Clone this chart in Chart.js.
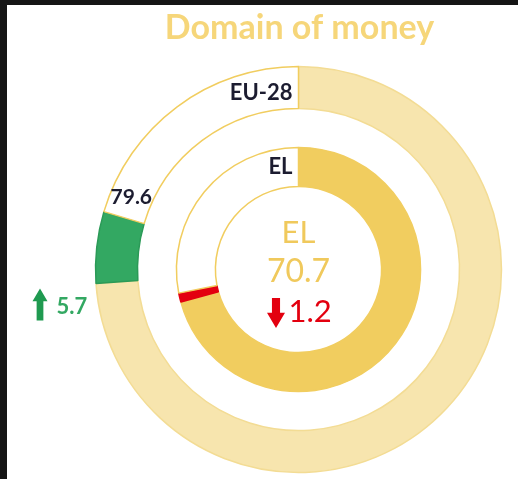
<!DOCTYPE html>
<html>
<head>
<meta charset="utf-8">
<script src="https://cdn.jsdelivr.net/npm/chart.js@4"></script>
<style>
html, body { margin: 0; padding: 0; background: #151515; }
#panel { position: absolute; left: 7px; top: 5px; width: 511px; height: 474px; background: #fff; }
#wrap { position: absolute; left: 0; top: 0; width: 518px; height: 479px; }
</style>
</head>
<body>
<div id="panel"></div>
<div id="wrap"><canvas id="moneyChart" width="518" height="479"></canvas></div>
<script>
// Domain of money - EU-28 (outer ring) vs EL (inner ring)
const title = 'Domain of money';
const rings = ['EU-28', 'EL'];
const scores = [79.6, 70.7];
const changes = [5.7, -1.2];
const maxScore = 100;

const GOLD = '#f1cd5f';
const PALE = '#f7e5ae';
const GREEN = '#33a862';
const RED = '#e3000f';

// split each score into: base part, change part, rest of the ring
function ringParts(score, change) {
    if (change >= 0) return [score - change, change, maxScore - score];
    return [score, -change, maxScore - score + change];
}

const outerParts = ringParts(scores[0], changes[0]);
const innerParts = ringParts(scores[1], changes[1]);

function drawArrow(ctx, x, top, bottom, w, up, color) {
    const head = w * 0.85;
    const shaft = w * 0.45;
    ctx.fillStyle = color;
    ctx.beginPath();
    if (up) {
        ctx.moveTo(x, top);
        ctx.lineTo(x + w / 2, top + head);
        ctx.lineTo(x + shaft / 2, top + head);
        ctx.lineTo(x + shaft / 2, bottom);
        ctx.lineTo(x - shaft / 2, bottom);
        ctx.lineTo(x - shaft / 2, top + head);
        ctx.lineTo(x - w / 2, top + head);
    } else {
        ctx.moveTo(x, bottom);
        ctx.lineTo(x + w / 2, bottom - head);
        ctx.lineTo(x + shaft / 2, bottom - head);
        ctx.lineTo(x + shaft / 2, top);
        ctx.lineTo(x - shaft / 2, top);
        ctx.lineTo(x - shaft / 2, bottom - head);
        ctx.lineTo(x - w / 2, bottom - head);
    }
    ctx.closePath();
    ctx.fill();
}

const labelPlugin = {
    id: 'ringLabels',
    afterDatasetsDraw(chart) {
        const ctx = chart.ctx;
        const outer = chart.getDatasetMeta(0).data;
        const inner = chart.getDatasetMeta(2).data;
        const cx = outer[0].x, cy = outer[0].y;
        ctx.save();

        // title
        ctx.fillStyle = '#f6d67a';
        ctx.font = 'bold 34px Lato';
        ctx.textAlign = 'center';
        ctx.textBaseline = 'alphabetic';
        ctx.fillText(title, cx + 1, 39);

        // ring names at top
        ctx.fillStyle = '#1c1c30';
        ctx.font = 'bold 22px Lato';
        ctx.textAlign = 'right';
        ctx.textBaseline = 'middle';
        [outer, inner].forEach((arcs, i) => {
            const a = arcs[0];
            const mid = (a.outerRadius + a.innerRadius) / 2;
            ctx.fillText(rings[i], cx - 6, cy - mid + (i === 0 ? 5 : 0));
        });

        // EU-28 score just past the end of the change arc
        const g = outer[1];
        const ang = g.endAngle + 0.117;
        const r = (g.outerRadius + g.innerRadius) / 2;
        ctx.textAlign = 'center';
        ctx.font = 'bold 21px Lato';
        ctx.fillText(scores[0].toFixed(1), cx + r * Math.cos(ang), cy + r * Math.sin(ang));

        // EU-28 change, left of the ring
        drawArrow(ctx, cx - 258.5, cy + 19, cy + 51, 15, changes[0] >= 0, '#1f9a50');
        ctx.fillStyle = GREEN;
        ctx.font = 'bold 22px Lato';
        ctx.textAlign = 'left';
        ctx.fillText(Math.abs(changes[0]).toFixed(1), cx - 242, cy + 37);

        // centre: EL score and change
        ctx.fillStyle = '#f0c95c';
        ctx.font = '31px Lato';
        ctx.textAlign = 'center';
        ctx.fillText(rings[1], cx, cy - 37);
        ctx.font = '32px Lato';
        ctx.fillText(scores[1].toFixed(1), cx, cy + 2);
        drawArrow(ctx, cx - 22.5, cy + 28.5, cy + 58.5, 18, changes[1] >= 0, RED);
        ctx.fillStyle = RED;
        ctx.font = '31px Lato';
        ctx.textAlign = 'left';
        ctx.fillText(Math.abs(changes[1]).toFixed(1), cx - 10, cy + 42);

        ctx.restore();
    }
};

const ctx = document.getElementById('moneyChart').getContext('2d');
const moneyChart = new Chart(ctx, {
    type: 'doughnut',
    data: {
        labels: ['base', 'change', 'rest'],
        datasets: [{
            label: rings[0],
            data: outerParts,
            weight: 42,
            backgroundColor: [PALE, GREEN, '#ffffff'],
            borderColor: ['#f3dc94', '#2b9a57', GOLD],
            borderWidth: 1.5
        }, {
            label: 'gap',
            data: [maxScore],
            weight: 39,
            backgroundColor: 'rgba(0,0,0,0)',
            borderWidth: 0
        }, {
            label: rings[1],
            data: innerParts,
            weight: 39,
            backgroundColor: [GOLD, RED, '#ffffff'],
            borderColor: [GOLD, RED, GOLD],
            borderWidth: 1.5
        }]
    },
    options: {
        responsive: false,
        animation: false,
        radius: 203,
        cutout: 83,
        layout: { padding: { left: 95, top: 66, right: 16, bottom: 6 } },
        plugins: {
            legend: { display: false },
            tooltip: { enabled: false }
        },
        events: []
    },
    plugins: [labelPlugin]
});
</script>
</body>
</html>
